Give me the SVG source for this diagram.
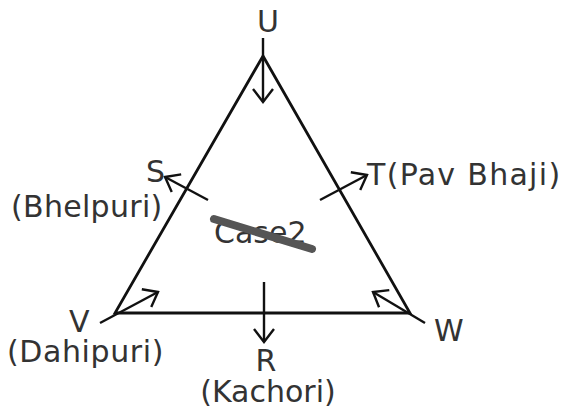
<svg xmlns="http://www.w3.org/2000/svg" width="567" height="412" viewBox="0 0 567 412">
<style>
text{font-family:"DejaVu Sans","Verdana",sans-serif;font-size:30px;fill:#333}
.edge{stroke:#111;stroke-width:2.8;fill:none;stroke-linejoin:miter}
.arr{stroke:#111;stroke-width:2.4;fill:none;marker-end:url(#ah)}
</style>
<defs>
<marker id="ah" markerUnits="userSpaceOnUse" viewBox="-16 -12 18 24" refX="0" refY="0" markerWidth="18" markerHeight="24" orient="auto">
<path d="M-13,-10 L0,0 L-13,10" fill="none" stroke="#111" stroke-width="2.4" stroke-linejoin="miter"/>
</marker>
</defs>
<rect width="567" height="412" fill="#fff"/>
<g id="connectors">
<polygon class="edge" points="263,56 410,313 115,313"/>
<line class="arr" x1="263" y1="38" x2="263" y2="102"/>
<line class="arr" x1="208" y1="200" x2="165" y2="177"/>
<line class="arr" x1="320" y1="200" x2="367" y2="175"/>
<line class="arr" x1="100" y1="323" x2="158" y2="292"/>
<line class="arr" x1="425" y1="323" x2="373" y2="292"/>
<line class="arr" x1="264" y1="282" x2="264" y2="342"/>
</g>
<g id="node-U"><text x="268" y="32" text-anchor="middle">U</text></g>
<g id="node-S"><text x="146" y="182">S</text><text x="11" y="217" letter-spacing="0.3">(Bhelpuri)</text></g>
<g id="node-T"><text x="367" y="185" letter-spacing="1.3">T(Pav Bhaji)</text></g>
<g id="node-V"><text x="69" y="332">V</text><text x="7" y="362" letter-spacing="0.6">(Dahipuri)</text></g>
<g id="node-W"><text x="434" y="341">W</text></g>
<g id="node-R"><text x="266" y="371" text-anchor="middle">R</text><text x="268" y="402" text-anchor="middle">(Kachori)</text></g>
<g id="case2"><text x="214" y="243">Case2</text>
<line x1="214" y1="219" x2="312" y2="249" stroke="#555" stroke-width="8" stroke-linecap="round"/></g>
</svg>
